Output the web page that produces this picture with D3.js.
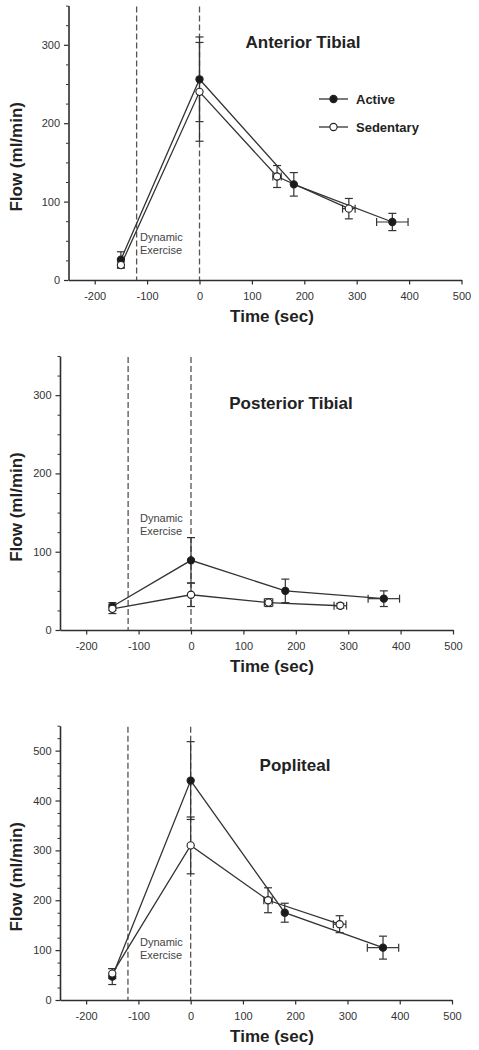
<!DOCTYPE html>
<html><head><meta charset="utf-8">
<script src="https://cdn.jsdelivr.net/npm/d3@7"></script>
<style>
html,body{margin:0;padding:0;background:#fff;}
svg{display:block;font-family:Arial,"Liberation Sans",sans-serif;}
</style></head>
<body>
<svg id="chart" width="479" height="1050"></svg>
<script>
// ---------- data ----------
const xTickValues = [-200, -100, 0, 100, 200, 300, 400, 500];
const xDomain = [-250, 500];
const exerciseStart = -120;
const exerciseEnd = 0;
const seriesNames = ["Active", "Sedentary"];

const activeTimes = [-150, 0, 180, 368];
const activeTimeErr = [0, 0, 0, 30];
const sedentaryTimes = [-150, 0, 148, 285];
const sedentaryTimeErr = [0, 0, 8, 12];

const anteriorActive = [26, 256, 122, 74];
const anteriorActiveErr = [10, 54, 15, 11];
const anteriorSedentary = [19, 240, 132, 91];
const anteriorSedentaryErr = [4, 63, 14, 13];

const posteriorActive = [30, 89, 50, 40];
const posteriorActiveErr = [5, 29, 15, 10];
const posteriorSedentary = [27, 45, 35, 31];
const posteriorSedentaryErr = [6, 15, 5, 3];

const poplitealActive = [47, 440, 175, 105];
const poplitealActiveErr = [16, 78, 19, 23];
const poplitealSedentary = [53, 310, 200, 152];
const poplitealSedentaryErr = [10, 57, 25, 17];

const yTicksSmall = [0, 100, 200, 300];
const yTicksLarge = [0, 100, 200, 300, 400, 500];

const panelTitles = ["Anterior Tibial", "Posterior Tibial", "Popliteal"];
const xLabel = "Time (sec)";
const yLabel = "Flow (ml/min)";
const exerciseLabel = ["Dynamic", "Exercise"];

// ---------- layout ----------
const panels = [
  {title: panelTitles[0], yMax: 350, yTicks: yTicksSmall,
   act: anteriorActive, actErr: anteriorActiveErr, sed: anteriorSedentary, sedErr: anteriorSedentaryErr,
   left: 68.5, right: 461.5, top: 5.6, bottom: 280,
   titleX: 303, titleY: 48, exY: 241, legend: true},
  {title: panelTitles[1], yMax: 350, yTicks: yTicksSmall,
   act: posteriorActive, actErr: posteriorActiveErr, sed: posteriorSedentary, sedErr: posteriorSedentaryErr,
   left: 60, right: 453, top: 356, bottom: 630,
   titleX: 291, titleY: 409, exY: 522, legend: false},
  {title: panelTitles[2], yMax: 550, yTicks: yTicksLarge,
   act: poplitealActive, actErr: poplitealActiveErr, sed: poplitealSedentary, sedErr: poplitealSedentaryErr,
   left: 60, right: 452, top: 725.7, bottom: 1000,
   titleX: 295, titleY: 771, exY: 946, legend: false}
];

const ink = "#2e2e2e";
const fmt = d => String(d);
const svg = d3.select("#chart");

panels.forEach(p => {
  const g = svg.append("g");
  const x = d3.scaleLinear().domain(xDomain).range([p.left, p.right]);
  const y = d3.scaleLinear().domain([0, p.yMax]).range([p.bottom, p.top]);

  // minor y ticks
  const minor = d3.range(0, p.yMax + 0.1, 25).filter(v => v % 100 !== 0);
  g.append("g").attr("transform", `translate(${p.left},0)`)
    .call(d3.axisLeft(y).tickValues(minor).tickSize(2.5).tickFormat(""))
    .call(a => a.select(".domain").remove())
    .call(a => a.selectAll("line").attr("stroke", ink).attr("stroke-width", 1));

  // y axis
  g.append("g").attr("transform", `translate(${p.left},0)`)
    .call(d3.axisLeft(y).tickValues(p.yTicks).tickSize(4.5).tickSizeOuter(0).tickPadding(4).tickFormat(fmt))
    .call(a => a.select(".domain").attr("stroke", ink).attr("stroke-width", 1.6))
    .call(a => a.selectAll("line").attr("stroke", ink).attr("stroke-width", 1.2))
    .call(a => a.selectAll("text").attr("fill", "#333").attr("font-size", 11)
       .attr("font-family", "Arial, 'Liberation Sans', sans-serif"));

  // x axis
  g.append("g").attr("transform", `translate(0,${p.bottom})`)
    .call(d3.axisBottom(x).tickValues(xTickValues).tickSize(4.5).tickSizeOuter(0).tickPadding(8).tickFormat(fmt))
    .call(a => a.select(".domain").attr("stroke", ink).attr("stroke-width", 1.6))
    .call(a => a.selectAll("line").attr("stroke", ink).attr("stroke-width", 1.2))
    .call(a => a.selectAll("text").attr("fill", "#333").attr("font-size", 11)
       .attr("font-family", "Arial, 'Liberation Sans', sans-serif"));

  // axis labels
  g.append("text").attr("x", 272).attr("y", p.bottom + 42)
    .attr("text-anchor", "middle").attr("font-size", 17).attr("font-weight", "bold")
    .attr("fill", "#222").text(xLabel);
  const yc = (p.top + p.bottom) / 2 + 14;
  g.append("text").attr("transform", `translate(21.5,${yc}) rotate(-90)`)
    .attr("text-anchor", "middle").attr("font-size", 17).attr("font-weight", "bold")
    .attr("fill", "#222").text(yLabel);

  // dashed exercise lines
  [exerciseStart, exerciseEnd].forEach(v => {
    g.append("line").attr("x1", x(v)).attr("x2", x(v))
      .attr("y1", p.top + 1).attr("y2", p.bottom)
      .attr("stroke", "#555").attr("stroke-width", 1.3).attr("stroke-dasharray", "6,3");
  });

  // exercise label
  exerciseLabel.forEach((t, i) => {
    g.append("text").attr("x", 140).attr("y", p.exY + i * 12.5)
      .attr("font-size", 11).attr("fill", "#444").text(t);
  });

  // title
  g.append("text").attr("x", p.titleX).attr("y", p.titleY)
    .attr("text-anchor", "middle").attr("font-size", 17).attr("font-weight", "bold")
    .attr("fill", "#222").text(p.title);

  const series = [
    {name: seriesNames[0], t: activeTimes, te: activeTimeErr, v: p.act, e: p.actErr, fill: "#1a1a1a"},
    {name: seriesNames[1], t: sedentaryTimes, te: sedentaryTimeErr, v: p.sed, e: p.sedErr, fill: "#fff"}
  ];

  const line = d3.line().x(d => x(d[0])).y(d => y(d[1]));
  const cap = 4;

  // error bars
  series.forEach(s => {
    s.t.forEach((t, i) => {
      const cx = x(t), v = s.v[i], e = s.e[i], te = s.te[i];
      const eg = g.append("g").attr("stroke", "#333").attr("stroke-width", 1.2);
      if (e > 0) {
        eg.append("line").attr("x1", cx).attr("x2", cx).attr("y1", y(v + e)).attr("y2", y(v - e));
        eg.append("line").attr("x1", cx - cap).attr("x2", cx + cap).attr("y1", y(v + e)).attr("y2", y(v + e));
        eg.append("line").attr("x1", cx - cap).attr("x2", cx + cap).attr("y1", y(v - e)).attr("y2", y(v - e));
      }
      if (te > 0) {
        const cy = y(v);
        eg.append("line").attr("x1", x(t - te)).attr("x2", x(t + te)).attr("y1", cy).attr("y2", cy);
        eg.append("line").attr("x1", x(t - te)).attr("x2", x(t - te)).attr("y1", cy - cap).attr("y2", cy + cap);
        eg.append("line").attr("x1", x(t + te)).attr("x2", x(t + te)).attr("y1", cy - cap).attr("y2", cy + cap);
      }
    });
  });

  // lines
  series.forEach(s => {
    g.append("path").datum(s.t.map((t, i) => [t, s.v[i]]))
      .attr("d", line).attr("fill", "none").attr("stroke", "#333").attr("stroke-width", 1.3);
  });

  // markers
  series.forEach(s => {
    g.selectAll(null).data(s.t.map((t, i) => [t, s.v[i]])).enter().append("circle")
      .attr("cx", d => x(d[0])).attr("cy", d => y(d[1])).attr("r", 3.6)
      .attr("fill", s.fill).attr("stroke", "#222").attr("stroke-width", 1.1);
  });

  // legend
  if (p.legend) {
    series.forEach((s, i) => {
      const ly = 99 + i * 28;
      g.append("line").attr("x1", 319).attr("x2", 348).attr("y1", ly).attr("y2", ly)
        .attr("stroke", "#333").attr("stroke-width", 1.3);
      g.append("circle").attr("cx", 333.5).attr("cy", ly).attr("r", 3.6)
        .attr("fill", s.fill).attr("stroke", "#222").attr("stroke-width", 1.1);
      g.append("text").attr("x", 356).attr("y", ly + 4.5).attr("font-size", 13)
        .attr("font-weight", "bold").attr("fill", "#222").text(s.name);
    });
  }
});
</script>
</body></html>
